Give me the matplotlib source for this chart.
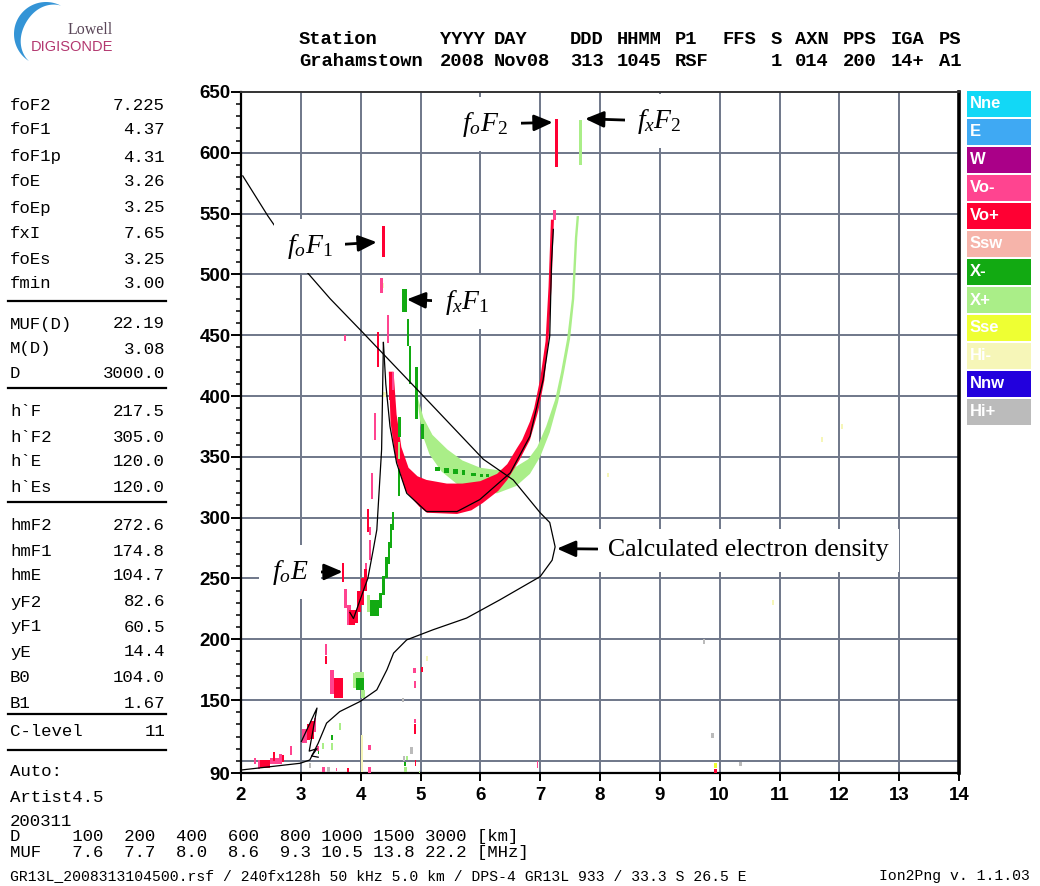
import numpy as np
import matplotlib.pyplot as plt
from matplotlib.patches import Rectangle
from matplotlib.ticker import MultipleLocator

plt.rcParams['mathtext.fontset'] = 'custom'
plt.rcParams['mathtext.it'] = 'Liberation Serif:italic'
plt.rcParams['mathtext.rm'] = 'Liberation Serif'

# ---- scaled parameters (left panel) ----
param_names = ['foF2', 'foF1', 'foF1p', 'foE', 'foEp', 'fxI', 'foEs', 'fmin',
               'MUF(D)', 'M(D)', 'D',
               'h`F', 'h`F2', 'h`E', 'h`Es',
               'hmF2', 'hmF1', 'hmE', 'yF2', 'yF1', 'yE', 'B0', 'B1',
               'C-level']
param_values = ['7.225', '4.37', '4.31', '3.26', '3.25', '7.65', '3.25', '3.00',
                '22.19', '3.08', '3000.0',
                '217.5', '305.0', '120.0', '120.0',
                '272.6', '174.8', '104.7', '82.6', '60.5', '14.4', '104.0', '1.67',
                '11']

header_top = ['Station', 'YYYY', 'DAY', 'DDD', 'HHMM', 'P1', 'FFS', 'S', 'AXN', 'PPS', 'IGA', 'PS']
header_bot = ['Grahamstown', '2008', 'Nov08', '313', '1045', 'RSF', '', '1', '014', '200', '14+', 'A1']

muf_dist = ['100', '200', '400', '600', '800', '1000', '1500', '3000']
muf_freq = ['7.6', '7.7', '8.0', '8.6', '9.3', '10.5', '13.8', '22.2']

legend_names = ['Nne', 'E', 'W', 'Vo-', 'Vo+', 'Ssw', 'X-', 'X+', 'Sse', 'Hi-', 'Nnw', 'Hi+']
legend_colors = ['#12d8f6', '#3fa9f3', '#aa0088', '#ff4490', '#ff0033', '#f6b4aa',
                 '#12aa12', '#aaee88', '#eeff33', '#f6f6b8', '#2200dd', '#bbbbbb']
mode_color = dict(zip(legend_names, legend_colors))

# ---- echo traces: (f0, f1, h_bottom, h_top) in MHz / km ----
vo_plus = [(7.25, 7.30, 588, 628), (4.35, 4.40, 514, 540), (4.27, 4.31, 424, 453),
           (4.47, 4.51, 397, 416), (4.10, 4.14, 288, 307),
           (3.68, 3.72, 247, 263), (3.80, 3.90, 212, 224), (3.90, 3.96, 213, 224),
           (3.94, 4.00, 222, 240), (4.00, 4.06, 228, 250), (4.05, 4.10, 240, 258),
           (3.55, 3.70, 152, 168), (3.40, 3.43, 180, 186),
           (3.10, 3.16, 117, 130), (3.16, 3.22, 118, 133),
           (2.32, 2.48, 94, 101), (2.53, 2.57, 100, 107), (2.68, 2.72, 99, 105),
           (3.77, 3.81, 91, 94), (4.89, 4.93, 122, 130), (5.00, 5.05, 173, 177),
           (4.90, 4.93, 96, 101), (9.91, 9.96, 90, 93)]
vo_minus = [(7.22, 7.27, 545, 553), (4.33, 4.38, 485, 497), (4.44, 4.48, 444, 467),
            (4.22, 4.26, 364, 386), (4.17, 4.21, 315, 337), (4.14, 4.18, 286, 292),
            (3.72, 3.77, 226, 241), (3.77, 3.84, 212, 228), (4.07, 4.10, 255, 263),
            (4.14, 4.18, 265, 282), (3.49, 3.55, 155, 175), (3.40, 3.43, 187, 196),
            (3.02, 3.10, 115, 126), (3.22, 3.25, 124, 135), (3.27, 3.30, 108, 112),
            (2.21, 2.25, 97, 102), (2.28, 2.32, 93, 101), (2.48, 2.65, 97, 102),
            (2.64, 2.68, 97, 106), (2.82, 2.86, 105, 112), (3.36, 3.40, 91, 95),
            (3.58, 3.61, 92, 94), (4.13, 4.17, 109, 113), (4.13, 4.17, 90, 95),
            (4.89, 4.93, 131, 134), (4.89, 4.92, 160, 166), (4.88, 4.92, 172, 176),
            (6.94, 6.97, 94, 100), (3.72, 3.76, 445, 450), (4.52, 4.56, 405, 420)]
x_minus = [(4.69, 4.77, 469, 488), (4.77, 4.81, 441, 463), (4.80, 4.84, 410, 441),
           (4.90, 4.96, 381, 424), (5.00, 5.06, 365, 377),
           (5.25, 5.32, 338, 342), (5.40, 5.47, 337, 341), (5.55, 5.62, 336, 340),
           (5.70, 5.75, 335, 339), (5.85, 5.92, 334, 337), (6.00, 6.05, 333, 336),
           (6.10, 6.15, 333, 336),
           (4.16, 4.30, 219, 232), (4.30, 4.36, 226, 238),
           (4.36, 4.41, 236, 252), (4.41, 4.45, 250, 268), (4.45, 4.49, 262, 280),
           (4.49, 4.53, 275, 295), (4.52, 4.56, 290, 305), (4.62, 4.66, 318, 340),
           (4.63, 4.67, 366, 383), (3.92, 4.06, 158, 168), (3.51, 3.54, 117, 121),
           (3.28, 3.31, 106, 109), (4.72, 4.75, 96, 99)]
x_plus = [(7.65, 7.70, 590, 627), (4.10, 4.16, 222, 236), (4.62, 4.66, 348, 362),
          (3.87, 3.92, 160, 172), (4.00, 4.07, 152, 158), (3.90, 4.05, 168, 173),
          (3.64, 3.67, 125, 131), (3.51, 3.54, 109, 115), (3.36, 3.39, 110, 115),
          (4.72, 4.78, 91, 95), (4.76, 4.79, 101, 104), (4.97, 5.00, 90, 92)]
hi_minus = [(4.00, 4.04, 91, 121), (5.09, 5.13, 182, 186), (4.35, 4.39, 489, 493),
            (4.38, 4.42, 399, 403), (8.11, 8.15, 333, 337), (10.87, 10.91, 228, 232),
            (11.69, 11.73, 362, 366), (12.02, 12.06, 373, 377)]
sse = [(9.91, 9.96, 94, 98)]
hi_plus = [(4.69, 4.73, 148, 152), (4.70, 4.74, 100, 104), (4.83, 4.87, 106, 111),
           (3.13, 3.17, 94, 98), (3.44, 3.48, 91, 95), (10.33, 10.37, 96, 99),
           (9.86, 9.90, 119, 123), (9.72, 9.76, 196, 200)]

# F2 traces as bands: outer (lower/right) edge then inner edge back
o_band_outer = [(4.47, 420), (4.50, 378), (4.58, 350), (4.75, 322), (4.98, 309),
                (5.11, 304), (5.61, 303), (5.85, 306), (6.04, 312),
                (6.30, 322), (6.45, 331), (6.65, 347), (6.83, 364), (6.97, 388),
                (7.07, 413), (7.14, 447), (7.19, 490), (7.23, 545)]
o_band_inner = [(7.18, 545), (7.14, 490), (7.09, 445), (7.00, 414), (6.90, 390),
                (6.83, 379), (6.70, 364), (6.61, 357), (6.45, 344), (6.28, 336),
                (6.00, 330), (5.70, 328), (5.44, 328), (5.10, 331), (4.95, 334),
                (4.80, 341), (4.68, 358), (4.60, 385), (4.55, 420)]
x_band_outer = [(4.96, 392), (5.02, 370), (5.15, 352), (5.35, 338), (5.60, 328),
                (5.90, 322), (6.28, 320), (6.60, 326), (6.83, 336), (7.00, 350),
                (7.16, 370), (7.30, 395), (7.40, 420), (7.50, 447), (7.57, 480),
                (7.62, 530), (7.65, 548)]
x_band_inner = [(7.61, 548), (7.58, 530), (7.53, 480), (7.45, 447), (7.35, 420),
                (7.25, 397), (7.10, 375), (6.95, 358), (6.80, 348), (6.60, 342),
                (6.30, 339), (6.00, 341), (5.70, 347), (5.45, 356), (5.20, 368),
                (5.05, 382), (4.96, 398)]

# black lines: calculated electron density and trace fits
dens_f = [2.03, 2.45, 3.10, 3.49, 4.04, 4.99, 6.05, 6.55, 7.00, 7.16, 7.25, 7.20, 7.00,
          6.33, 5.77, 5.21, 4.77, 4.55, 4.44, 4.27, 3.99, 3.65, 3.43, 3.29, 3.15, 2.99, 2.01]
dens_h = [581, 548, 502, 480, 452, 403, 348, 331, 304, 296, 276, 265, 251.5,
          232.5, 217.4, 207.8, 199.5, 188.6, 175, 158.4, 148.8, 140.5, 131, 114.5, 100.7, 98, 92.5]
fitf2_f = [4.38, 4.42, 4.49, 4.60, 4.77, 5.10, 5.61, 5.99, 6.50, 6.83, 7.05, 7.16, 7.19, 7.22]
fitf2_h = [444, 410, 375, 345, 320, 305, 305, 314.8, 336.8, 367, 413.6, 449.3, 509.7, 537]
fitf1_f = [3.82, 3.88, 4.06, 4.12, 4.21, 4.27, 4.35, 4.38]
fitf1_h = [222, 217, 242, 250, 273.6, 290, 356, 444]
fite_f = [3.01, 3.27, 3.14, 3.27, 3.18, 3.29]
fite_h = [116, 143.4, 108, 110, 104, 103]

W, H = 1040, 886
fig = plt.figure(figsize=(10.4, 8.86), dpi=100)
fig.patch.set_facecolor('white')


def fx(px):
    return px / W


def fy(py):
    return 1 - py / H


ax = fig.add_axes([fx(241), fy(773), (959 - 241) / W, (773 - 92) / H])
ax.set_xlim(2, 14)
ax.set_ylim(90, 650)

grid_c = '#6f7789'
for f in range(3, 14):
    ax.axvline(f, color=grid_c, lw=1.4, zorder=0)
for h in [100] + list(range(150, 601, 50)):
    ax.axhline(h, color=grid_c, lw=1.4, zorder=0)

for name in ['left', 'bottom']:
    ax.spines[name].set_linewidth(1.6)
ax.spines['right'].set_linewidth(2.6)
ax.spines['top'].set_linewidth(1.4)
ax.spines['top'].set_color('#333333')

ax.set_xticks(range(2, 15))
ax.set_yticks([90] + list(range(150, 651, 50)))
ax.yaxis.set_minor_locator(MultipleLocator(10))
ax.tick_params(axis='x', length=6, width=1.4, pad=4)
ax.tick_params(axis='y', which='major', length=7, width=1.4, pad=0.5)
ax.tick_params(axis='y', which='minor', length=3.5, width=1.1)
for lab in ax.get_xticklabels() + ax.get_yticklabels():
    lab.set_fontfamily('Liberation Sans')
    lab.set_fontweight('bold')
    lab.set_fontsize(13.5)


def draw_blocks(blocks, color):
    f0, f1, h0, h1 = (np.array(c, dtype=float) for c in zip(*blocks))
    ax.bar(f0, h1 - h0, width=f1 - f0, bottom=h0, align='edge',
           color=color, lw=0, zorder=3)


def draw_band(outer, inner, color):
    pts = outer + inner
    ax.fill([p[0] for p in pts], [p[1] for p in pts], color=color, lw=0, zorder=2)


draw_band(x_band_outer, x_band_inner, mode_color['X+'])
draw_band(o_band_outer, o_band_inner, mode_color['Vo+'])
draw_blocks(hi_minus, mode_color['Hi-'])
draw_blocks(hi_plus, mode_color['Hi+'])
draw_blocks(sse, mode_color['Sse'])
draw_blocks(x_plus, mode_color['X+'])
draw_blocks(x_minus, mode_color['X-'])
draw_blocks(vo_minus, mode_color['Vo-'])
draw_blocks(vo_plus, mode_color['Vo+'])

for lf, lh in [(dens_f, dens_h), (fitf2_f, fitf2_h), (fitf1_f, fitf1_h), (fite_f, fite_h)]:
    ax.plot(lf, lh, color='black', lw=0.9, zorder=4)

# ---- annotations ----
arrow = dict(arrowstyle='-|>,head_length=0.8,head_width=0.35', color='black',
             lw=2, mutation_scale=14, shrinkA=0, shrinkB=0)
box = dict(boxstyle='square,pad=0.45', fc='white', ec='none')
notes = [(r'$f_oF_{\mathit{2}}$', (6.08, 623.6), (7.21, 625)),
         (r'$f_xF_{\mathit{2}}$', (9.00, 626), (7.75, 628)),
         (r'$f_oF_{\mathit{1}}$', (3.15, 523), (4.27, 526.5)),
         (r'$f_xF_{\mathit{1}}$', (5.78, 477), (4.77, 479.5)),
         (r'$f_oE$', (2.82, 255), (3.70, 255.5))]
for txt, xyt, xy in notes:
    ax.annotate(txt, xy=xy, xytext=xyt, fontsize=20, ha='center', va='center',
                bbox=box, arrowprops=arrow, zorder=6)
ax.annotate('Calculated electron density', xy=(7.28, 274.5), xytext=(8.13, 273),
            fontsize=18.5, family='Liberation Serif', ha='left', va='center',
            bbox=dict(boxstyle='square,pad=0.4', fc='white', ec='none'),
            arrowprops=arrow, zorder=6)

# ---- legend boxes ----
for i, (name, col) in enumerate(zip(legend_names, legend_colors)):
    top = 90 + i * 28
    fig.patches.append(Rectangle((fx(967), fy(top + 27)), 64 / W, 26 / H,
                                 transform=fig.transFigure, color=col, lw=0))
    fig.text(fx(970), fy(top + 14), name, color='white', fontsize=12,
             fontweight='bold', family='Liberation Sans', va='center', ha='left')

# ---- header ----
header_x = [299, 440, 494, 570, 617, 675, 723, 771, 795, 843, 891, 939]
for x, t, b in zip(header_x, header_top, header_bot):
    fig.text(fx(x), fy(40), t, family='Liberation Mono', fontweight='bold',
             fontsize=13.5, va='center')
    fig.text(fx(x), fy(62), b, family='Liberation Mono', fontweight='bold',
             fontsize=13.5, va='center')

# ---- left parameter panel ----
mono = dict(family='Liberation Mono', fontsize=12.5, va='center')
row_y = [105, 130, 157, 182, 208, 233, 259, 284, 324, 349, 374, 411, 437, 462, 487,
         526, 551, 576, 602, 627, 652, 678, 703, 731]
for y, n, v in zip(row_y, param_names, param_values):
    fig.text(fx(10), fy(y), n, ha='left', **mono)
    fig.text(fx(165), fy(y), v, ha='right', **mono)
for y in [301, 388, 502, 714, 750]:
    fig.add_artist(plt.Line2D([fx(8), fx(166)], [fy(y), fy(y)], color='black', lw=1.6))
fig.text(fx(10), fy(771), 'Auto:', ha='left', **mono)
fig.text(fx(10), fy(797), 'Artist4.5', ha='left', **mono)
fig.text(fx(10), fy(821), '200311', ha='left', **mono)

d_row = 'D   ' + ''.join(f'{d:>5}' for d in muf_dist) + ' [km]'
m_row = 'MUF ' + ''.join(f'{m:>5}' for m in muf_freq) + ' [MHz]'
fig.text(fx(10), fy(836), d_row, ha='left', **mono)
fig.text(fx(10), fy(853), m_row, ha='left', **mono)

fig.text(fx(10), fy(876), 'GR13L_2008313104500.rsf / 240fx128h 50 kHz 5.0 km / '
         'DPS-4 GR13L 933 / 33.3 S 26.5 E', family='Liberation Mono',
         fontsize=10.6, va='center', ha='left')
fig.text(fx(1030), fy(876), 'Ion2Png v. 1.1.03', family='Liberation Mono',
         fontsize=10.6, va='center', ha='right')

# ---- logo ----
lax = fig.add_axes([0, fy(65), fx(125), 65 / H])
lax.set_xlim(0, 125)
lax.set_ylim(65, 0)
lax.axis('off')
th = np.radians(np.linspace(62, 238, 90))
thick = 9 * np.sin(np.pi * (th - th[0]) / (th[-1] - th[0])) ** 1.2
xo, yo = 46 + 32 * np.cos(th), 34 - 32 * np.sin(th)
xi, yi = 46 + (32 - thick) * np.cos(th), 34 - (32 - thick) * np.sin(th)
lax.fill(np.r_[xo, xi[::-1]], np.r_[yo, yi[::-1]], color='#3494d6', lw=0)
lax.text(113, 30, 'Lowell', ha='right', va='center', fontsize=11.5,
         family='Liberation Serif', color='#5a4658')
lax.text(113, 47, 'DIGISONDE', ha='right', va='center', fontsize=10.5,
         family='Liberation Sans', color='#b3376f')

fig.savefig('out.png', dpi=100)
